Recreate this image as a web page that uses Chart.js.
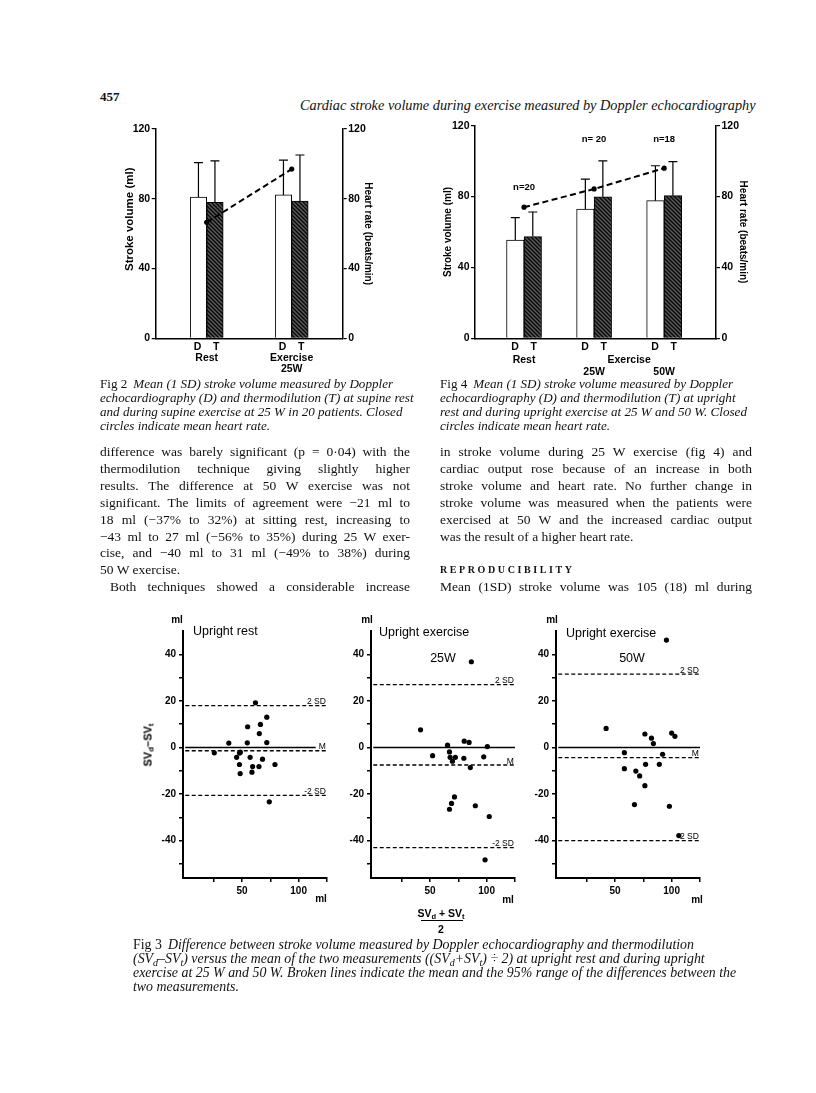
<!DOCTYPE html>
<html>
<head>
<meta charset="utf-8">
<script src="https://cdn.jsdelivr.net/npm/chart.js@4.4.1/dist/chart.umd.min.js"></script>
<style>
  body { margin: 0; background: #fff; }
  #page { position: relative; width: 816px; height: 1093px; overflow: hidden; background: #fff; color: #111; font-family: "Liberation Serif", "DejaVu Serif", serif; }
  .t { position: absolute; white-space: nowrap; line-height: 1; transform: translateY(-50%); }
  .c { transform: translate(-50%, -50%); }
  .it { font-style: italic; }
  .sans { font-family: "Liberation Sans", Arial, sans-serif; color: #000; }
  .j { width: 310px; text-align: justify; text-align-last: justify; font-size: 13.5px; }
  .cap { font-size: 13.1px; }
  .cap3 { font-size: 13.9px; }
  .cap b, .cap3 b { font-style: normal; font-weight: normal; margin-right: 6px; }
  sub { font-size: 72%; line-height: 0; vertical-align: -0.3em; }
  canvas { position: absolute; }
</style>
</head>
<body>
<div id="page">
  <div class="t" style="left:100px;top:96px;font-size:13px;font-weight:bold">457</div>
  <div class="t it" style="left:300px;top:105px;font-size:14.3px">Cardiac stroke volume during exercise measured by Doppler echocardiography</div>

  <canvas id="fig2" width="300" height="265" style="left:100px;top:115px"></canvas>
  <canvas id="fig4" width="350" height="270" style="left:420px;top:110px"></canvas>

  <div class="t it cap" style="left:100px;top:384px"><b>Fig 2</b>Mean (1 SD) stroke volume measured by Doppler</div>
  <div class="t it cap" style="left:100px;top:398px">echocardiography (D) and thermodilution (T) at supine rest</div>
  <div class="t it cap" style="left:100px;top:412px">and during supine exercise at 25 W in 20 patients. Closed</div>
  <div class="t it cap" style="left:100px;top:426px">circles indicate mean heart rate.</div>

  <div class="t it cap" style="left:440px;top:384px"><b>Fig 4</b>Mean (1 SD) stroke volume measured by Doppler</div>
  <div class="t it cap" style="left:440px;top:398px">echocardiography (D) and thermodilution (T) at upright</div>
  <div class="t it cap" style="left:440px;top:412px">rest and during upright exercise at 25 W and 50 W. Closed</div>
  <div class="t it cap" style="left:440px;top:426px">circles indicate mean heart rate.</div>

  <div class="t j" style="left:100px;top:452px">difference was barely significant (p = 0·04) with the</div>
  <div class="t j" style="left:100px;top:469px">thermodilution technique giving slightly higher</div>
  <div class="t j" style="left:100px;top:486px">results. The difference at 50 W exercise was not</div>
  <div class="t j" style="left:100px;top:503px">significant. The limits of agreement were −21 ml to</div>
  <div class="t j" style="left:100px;top:520px">18 ml (−37% to 32%) at sitting rest, increasing to</div>
  <div class="t j" style="left:100px;top:537px">−43 ml to 27 ml (−56% to 35%) during 25 W exer-</div>
  <div class="t j" style="left:100px;top:553px">cise, and −40 ml to 31 ml (−49% to 38%) during</div>
  <div class="t" style="left:100px;top:570px;font-size:13.5px">50 W exercise.</div>
  <div class="t j" style="left:100px;top:587px;padding-left:10px;width:300px">Both techniques showed a considerable increase</div>

  <div class="t j" style="left:440px;top:452px;width:312px">in stroke volume during 25 W exercise (fig 4) and</div>
  <div class="t j" style="left:440px;top:469px;width:312px">cardiac output rose because of an increase in both</div>
  <div class="t j" style="left:440px;top:486px;width:312px">stroke volume and heart rate. No further change in</div>
  <div class="t j" style="left:440px;top:503px;width:312px">stroke volume was measured when the patients were</div>
  <div class="t j" style="left:440px;top:520px;width:312px">exercised at 50 W and the increased cardiac output</div>
  <div class="t" style="left:440px;top:537px;font-size:13.5px">was the result of a higher heart rate.</div>
  <div class="t" style="left:440px;top:570px;font-size:10px;font-weight:bold;letter-spacing:2.6px">REPRODUCIBILITY</div>
  <div class="t j" style="left:440px;top:587px;width:312px">Mean (1SD) stroke volume was 105 (18) ml during</div>

  <canvas id="ba1" width="185" height="285" style="left:150px;top:620px"></canvas>
  <canvas id="ba2" width="185" height="285" style="left:338px;top:620px"></canvas>
  <canvas id="ba3" width="185" height="285" style="left:523px;top:620px"></canvas>

  <div class="t c sans" style="left:177px;top:620px;font-size:10px;font-weight:bold">ml</div>
  <div class="t c sans" style="left:367px;top:620px;font-size:10px;font-weight:bold">ml</div>
  <div class="t c sans" style="left:552px;top:620px;font-size:10px;font-weight:bold">ml</div>
  <div class="t c sans" style="left:321px;top:899px;font-size:10px;font-weight:bold">ml</div>
  <div class="t c sans" style="left:508px;top:900px;font-size:10px;font-weight:bold">ml</div>
  <div class="t c sans" style="left:697px;top:900px;font-size:10px;font-weight:bold">ml</div>

  <div class="t sans" style="left:193px;top:631px;font-size:12.5px">Upright rest</div>
  <div class="t sans" style="left:379px;top:632px;font-size:12.5px">Upright exercise</div>
  <div class="t sans" style="left:566px;top:633px;font-size:12.5px">Upright exercise</div>
  <div class="t c sans" style="left:443px;top:658px;font-size:12.5px">25W</div>
  <div class="t c sans" style="left:632px;top:658px;font-size:12.5px">50W</div>

  <div class="t sans" style="left:148px;top:745px;font-size:11px;font-weight:bold;transform:translate(-50%,-50%) rotate(-90deg)">SV<sub>d</sub>–SV<sub>t</sub></div>

  <div class="t c sans" style="left:441px;top:913px;font-size:10.5px;font-weight:bold">SV<sub>d</sub> + SV<sub>t</sub></div>
  <div style="position:absolute;left:421px;top:920px;width:42px;height:1.4px;background:#000"></div>
  <div class="t c sans" style="left:441px;top:929px;font-size:10.5px;font-weight:bold">2</div>

  <div class="t it cap3" style="left:133px;top:945px"><b>Fig 3</b>Difference between stroke volume measured by Doppler echocardiography and thermodilution</div>
  <div class="t it cap3" style="left:133px;top:959px">(SV<sub>d</sub>–SV<sub>t</sub>) versus the mean of the two measurements ((SV<sub>d</sub>+SV<sub>t</sub>) ÷ 2) at upright rest and during upright</div>
  <div class="t it cap3" style="left:133px;top:973px">exercise at 25 W and 50 W. Broken lines indicate the mean and the 95% range of the differences between the</div>
  <div class="t it cap3" style="left:133px;top:987px">two measurements.</div>
</div>

<script>
// ---- Fig 2: supine rest and supine exercise at 25 W ----
const fig2Pos = [1, 2];
const fig2Labels = [['D    T', 'Rest'], ['D    T', 'Exercise', '25W']];
const fig2DopplerMean = [81, 82.2];
const fig2DopplerSD = [19.7, 20];
const fig2ThermoMean = [78, 78.7];
const fig2ThermoSD = [23.7, 26.4];
const fig2HeartRate = [66.5, 97];

// ---- Fig 4: upright rest, 25 W and 50 W ----
const fig4Pos = [1, 2, 3];
const fig4TickPos = [1, 2, 2.5, 3];
const fig4Labels = [['D    T', 'Rest'], ['D    T', '', '25W'], ['', 'Exercise'], ['D    T', '', '50W']];
const fig4DopplerMean = [55.5, 73, 77.7];
const fig4DopplerSD = [12.6, 16.9, 19.7];
const fig4ThermoMean = [57.4, 79.9, 80.5];
const fig4ThermoSD = [13.9, 20.3, 19.2];
const fig4HeartRate = [74, 84.3, 96];
const fig4N = ['n=20', 'n= 20', 'n=18'];
const fig4NLevel = [85, 112.5, 112];

const volTicks = [0, 40, 80, 120];

// ---- Fig 3: difference vs mean (ml) ----
const restMean = [61.9, 25.6, 38.4, 45.3, 47.8, 48.6, 47.8, 48.4, 55, 54.7, 57.2, 59.4, 58.8, 65, 65.3, 66.3, 68.1, 71.9, 71.9, 79.1, 74.1];
const restDiff = [19.2, -2.3, 1.9, -4.2, -2.4, -2.0, -7.3, -11.2, 8.9, 2.0, -4.2, -8.2, -10.6, -8.2, 6.0, 9.9, -5.0, 13.0, 2.1, -7.3, -23.3];
const ex25Mean = [86.5, 41.7, 52.3, 65.5, 67.2, 67.8, 69.8, 72.4, 80.2, 84.5, 79.9, 85.6, 97.4, 100.6, 71.6, 69, 67.2, 90, 102.3, 98.6];
const ex25Diff = [36.8, 7.6, -3.5, 1.0, -1.9, -4.2, -5.9, -4.2, 2.7, 2.2, -4.6, -8.6, -4.0, 0.4, -21.2, -24, -26.5, -25, -29.6, -48.2];
const ex50Mean = [95.4, 42.2, 58.3, 58.3, 76.4, 82.2, 83.9, 77, 68.4, 71.8, 76.4, 67.2, 89.1, 92, 100, 102.9, 98, 106.3];
const ex50Diff = [46.1, 8.2, -2.2, -9.1, 5.8, 4.0, 1.7, -7.2, -10.1, -12.2, -16.4, -24.5, -7.2, -2.9, 6.2, 4.8, -25.2, -37.8];
// upper limit (+2 SD), mean difference, lower limit (-2 SD)
const restLimits = [18, -1.4, -20.5];
const ex25Limits = [27, -7.5, -43];
const ex50Limits = [31.5, -4.3, -40];
const limitNames = ['2 SD', 'M', '-2 SD'];
const zeroLineEnd = [115, 125, 125];
const baXTicks = [25, 50, 75, 100, 125];
const baXLabelled = [50, 100];
const baYTicks = [-50, -40, -30, -20, -10, 0, 10, 20, 30, 40];
const baYLabelled = [-40, -20, 0, 20, 40];

const SANS = '"Liberation Sans", Arial, sans-serif';

// hatched fill used for the thermodilution bars
const hatch = (function () {
  const c = document.createElement('canvas');
  c.width = 4; c.height = 4;
  const g = c.getContext('2d');
  g.fillStyle = '#5a5a5a';
  g.fillRect(0, 0, 4, 4);
  g.strokeStyle = '#080808';
  g.lineWidth = 1.4;
  g.beginPath();
  g.moveTo(-1, -1); g.lineTo(5, 5);
  g.moveTo(-1, 3); g.lineTo(1, 5);
  g.moveTo(3, -1); g.lineTo(5, 1);
  g.stroke();
  return g.createPattern(c, 'repeat');
})();

// mean + 1 SD whiskers on top of the bars
const errorBars = {
  id: 'errorBars',
  afterDatasetsDraw(chart) {
    const ctx = chart.ctx;
    const y = chart.scales.y;
    ctx.save();
    ctx.strokeStyle = '#000';
    ctx.lineWidth = 1.2;
    chart.data.datasets.forEach((ds, i) => {
      if (!ds.sd) return;
      chart.getDatasetMeta(i).data.forEach((bar, j) => {
        const top = y.getPixelForValue(ds.data[j].y + ds.sd[j]);
        ctx.beginPath();
        ctx.moveTo(bar.x, bar.y);
        ctx.lineTo(bar.x, top);
        ctx.moveTo(bar.x - 4.5, top);
        ctx.lineTo(bar.x + 4.5, top);
        ctx.stroke();
      });
    });
    ctx.restore();
  }
};

// n= labels over the Fig 4 groups
const groupNotes = {
  id: 'groupNotes',
  afterDraw(chart, args, opts) {
    if (!opts.text) return;
    const ctx = chart.ctx;
    ctx.save();
    ctx.fillStyle = '#000';
    ctx.font = 'bold 9.5px ' + SANS;
    ctx.textAlign = 'center';
    ctx.textBaseline = 'middle';
    opts.text.forEach((t, i) => {
      ctx.fillText(t, chart.scales.x.getPixelForValue(opts.at[i]), chart.scales.y.getPixelForValue(opts.level[i]));
    });
    ctx.restore();
  }
};

// "2 SD", "M", "-2 SD" tags at the right end of the reference lines
const limitTags = {
  id: 'limitTags',
  afterDatasetsDraw(chart, args, opts) {
    if (!opts.levels) return;
    const ctx = chart.ctx;
    ctx.save();
    ctx.fillStyle = '#000';
    ctx.font = '8.5px ' + SANS;
    ctx.textAlign = 'right';
    ctx.textBaseline = 'bottom';
    const x = chart.scales.x.getPixelForValue(124);
    opts.levels.forEach((v, i) => {
      ctx.fillText(limitNames[i], x, chart.scales.y.getPixelForValue(v) + 0.5);
    });
    ctx.restore();
  }
};

function barFigure(id, g) {
  const pts = vals => g.pos.map((p, i) => ({ x: p, y: vals[i] }));
  const tickFont = { family: SANS, size: 10.5, weight: 'bold' };
  const yGrid = { drawOnChartArea: false, drawTicks: true, tickLength: 4, color: '#000', lineWidth: 1.2 };
  return new Chart(document.getElementById(id), {
    type: 'bar',
    data: {
      datasets: [
        { label: 'D', data: pts(g.dMean), sd: g.dSD, backgroundColor: '#fff', borderColor: '#000', borderWidth: 1, barThickness: g.barW, order: 2 },
        { label: 'T', data: pts(g.tMean), sd: g.tSD, backgroundColor: hatch, borderColor: '#000', borderWidth: 1, barThickness: g.barW, order: 2 },
        { type: 'line', label: 'Heart rate', data: pts(g.hr), yAxisID: 'y2', borderColor: '#000', borderWidth: 2, borderDash: [6, 3.5],
          pointRadius: 2.6, pointBackgroundColor: '#000', pointBorderWidth: 0, order: 1 }
      ]
    },
    options: {
      responsive: false,
      animation: false,
      events: [],
      layout: { padding: { top: g.padTop, left: 0, right: 0, bottom: 0 } },
      plugins: { legend: { display: false }, tooltip: { enabled: false }, groupNotes: g.notes || {} },
      scales: {
        x: {
          type: 'linear', min: g.xMin, max: g.xMax, offset: false,
          afterBuildTicks: s => { s.ticks = g.tickPos.map(v => ({ value: v })); },
          afterFit: s => { s.height = g.xH; },
          grid: { display: false, drawTicks: false, offset: false },
          border: { display: true, color: '#000', width: 1.5 },
          ticks: { autoSkip: false, maxRotation: 0, minRotation: 0, padding: g.xPad, color: '#000',
                   font: Object.assign({ lineHeight: g.xLine }, tickFont),
                   callback: (v, i) => g.tickLabels[i] }
        },
        y: {
          position: 'left', min: 0, max: 120,
          afterBuildTicks: s => { s.ticks = volTicks.map(v => ({ value: v })); },
          afterFit: s => { s.width = g.yW; },
          grid: yGrid,
          border: { display: true, color: '#000', width: 1.5 },
          ticks: { padding: 1.5, color: '#000', font: tickFont },
          title: { display: true, text: g.yTitle, color: '#000', font: { family: SANS, size: g.yTitleSize, weight: 'bold' },
                   padding: { top: g.yTitlePad, bottom: 0 } }
        },
        y2: {
          position: 'right', min: 0, max: 120,
          afterBuildTicks: s => { s.ticks = volTicks.map(v => ({ value: v })); },
          afterFit: s => { s.width = g.y2W; },
          grid: yGrid,
          border: { display: true, color: '#000', width: 1.5 },
          ticks: { padding: 1.5, color: '#000', font: tickFont },
          title: { display: true, text: 'Heart rate (beats/min)', color: '#000', font: { family: SANS, size: 10, weight: 'bold' },
                   padding: { top: g.y2TitlePad, bottom: 0 } }
        }
      }
    },
    plugins: [errorBars, groupNotes]
  });
}

barFigure('fig2', {
  pos: fig2Pos, tickPos: fig2Pos, tickLabels: fig2Labels,
  dMean: fig2DopplerMean, dSD: fig2DopplerSD, tMean: fig2ThermoMean, tSD: fig2ThermoSD, hr: fig2HeartRate,
  xMin: 0.4, xMax: 2.6, barW: 16.5, padTop: 14, xH: 41.7, xPad: 3.5, xLine: 1.05,
  yW: 55.7, y2W: 57.3, yTitle: '         Stroke volume (ml)', yTitleSize: 11.5, yTitlePad: 23, y2TitlePad: 26
});

barFigure('fig4', {
  pos: fig4Pos, tickPos: fig4TickPos, tickLabels: fig4Labels,
  dMean: fig4DopplerMean, dSD: fig4DopplerSD, tMean: fig4ThermoMean, tSD: fig4ThermoSD, hr: fig4HeartRate,
  xMin: 0.3, xMax: 3.74, barW: 17.5, padTop: 15.7, xH: 41.7, xPad: 2.7, xLine: 1.2,
  yW: 55, y2W: 54, yTitle: 'Stroke volume (ml)', yTitleSize: 10, yTitlePad: 22, y2TitlePad: 21,
  notes: { text: fig4N, at: fig4Pos, level: fig4NLevel }
});

function blandPanel(id, xs, ys, limits, zeroEnd) {
  const flat = (v, x1) => [{ x: 0, y: v }, { x: x1, y: v }];
  const refLine = (v, dash) => ({ data: flat(v, 125), showLine: true, borderColor: '#000', borderWidth: 1.3,
                                  borderDash: dash, pointRadius: 0 });
  const tickFont = { family: SANS, size: 10, weight: 'bold' };
  const grid = { drawOnChartArea: false, drawTicks: true, tickLength: 4, color: '#000', lineWidth: 1.5 };
  return new Chart(document.getElementById(id), {
    type: 'scatter',
    data: {
      datasets: [
        { data: flat(0, zeroEnd), showLine: true, borderColor: '#000', borderWidth: 1.3, pointRadius: 0 },
        refLine(limits[0], [4, 2.5]),
        refLine(limits[1], [4, 2.5]),
        refLine(limits[2], [4, 2.5]),
        { data: xs.map((x, i) => ({ x: x, y: ys[i] })), pointRadius: 2.6, pointBackgroundColor: '#000', pointBorderWidth: 0 }
      ]
    },
    options: {
      responsive: false,
      animation: false,
      events: [],
      layout: { padding: { top: 11, right: 8, left: 0, bottom: 0 } },
      plugins: { legend: { display: false }, tooltip: { enabled: false }, limitTags: { levels: limits } },
      scales: {
        x: {
          type: 'linear', min: -2, max: 125,
          afterBuildTicks: s => { s.ticks = baXTicks.map(v => ({ value: v })); },
          afterFit: s => { s.height = 27; },
          grid: grid,
          border: { display: true, color: '#000', width: 2 },
          ticks: { autoSkip: false, maxRotation: 0, padding: 3, color: '#000', font: tickFont,
                   callback: v => baXLabelled.includes(v) ? String(v) : '' }
        },
        y: {
          min: -56, max: 50,
          afterBuildTicks: s => { s.ticks = baYTicks.map(v => ({ value: v })); },
          afterFit: s => { s.width = 33; },
          grid: grid,
          border: { display: true, color: '#000', width: 2 },
          ticks: { autoSkip: false, padding: 3, color: '#000', font: tickFont,
                   callback: v => baYLabelled.includes(v) ? String(v) : '' }
        }
      }
    },
    plugins: [limitTags]
  });
}

blandPanel('ba1', restMean, restDiff, restLimits, zeroLineEnd[0]);
blandPanel('ba2', ex25Mean, ex25Diff, ex25Limits, zeroLineEnd[1]);
blandPanel('ba3', ex50Mean, ex50Diff, ex50Limits, zeroLineEnd[2]);
</script>
</body>
</html>
